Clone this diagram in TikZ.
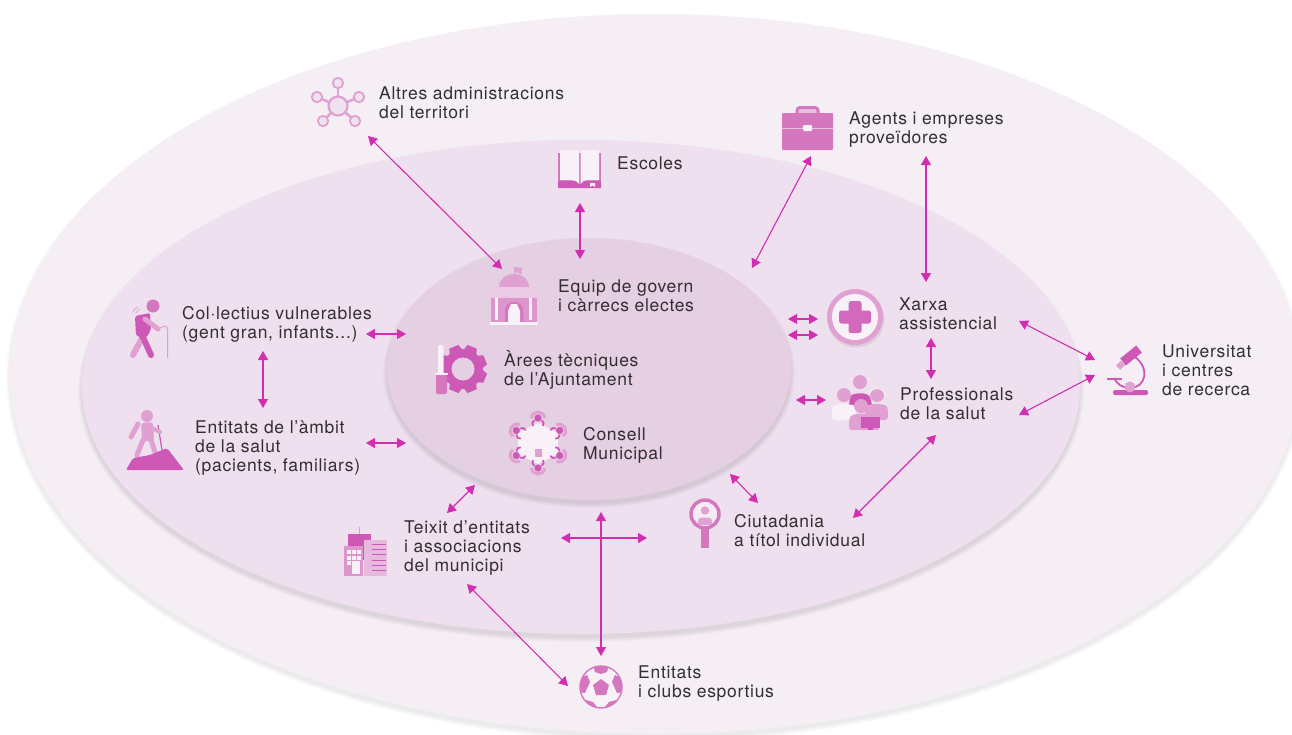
\documentclass[tikz,border=0pt]{standalone}
\usepackage{fontspec}
\setmainfont{TeX Gyre Heros}[LetterSpace=4]
\usetikzlibrary{arrows.meta}

\definecolor{outerzone}{HTML}{F5EEF5}
\definecolor{middlezone}{HTML}{EEE0EE}
\definecolor{innerzone}{HTML}{E5CFE3}
\definecolor{linkpink}{HTML}{D32DB0}
\definecolor{textgrey}{HTML}{332E2F}
\definecolor{icondark}{HTML}{CE58B6}
\definecolor{iconmid}{HTML}{D577BF}
\definecolor{iconlight}{HTML}{E0A0D2}
\definecolor{iconpale}{HTML}{F8F2F8}

\tikzset{
  txt/.style={anchor=base west, align=left, inner sep=0pt, text=textgrey,
    font=\fontsize{17.5}{19}\selectfont},
  link/.style={{Triangle[length=9pt,width=10pt]}-{Triangle[length=9pt,width=10pt]},
    draw=linkpink, line width=1.1pt},
  limb/.style={line cap=round, line width=#1},
}

\begin{document}
\begin{tikzpicture}[x=1pt, y=-1pt]
  \useasboundingbox (0,0) rectangle (1292,734);
  \clip (0,0) rectangle (1292,734);

  % zones
  \foreach \s in {1,...,5}
    \fill[black, opacity=.016] (655,378) ellipse [x radius=644+\s, y radius=359+\s];
  \fill[outerzone] (655,374) ellipse [x radius=645, y radius=360];
  \foreach \s in {1,...,5}
    \fill[black, opacity=.02] (581,391) ellipse [x radius=498+\s, y radius=246+\s];
  \fill[middlezone] (581,387) ellipse [x radius=499, y radius=247];
  \foreach \s in {1,...,5}
    \fill[black, opacity=.02] (589,373) ellipse [x radius=201+\s, y radius=130+\s];
  \fill[innerzone] (589,369) ellipse [x radius=202, y radius=131];

  % labels
  \node[txt] (altres) at (379,118) {Altres administracions\\del territori};
  \node[txt] (escoles) at (617,169) {Escoles};
  \node[txt] (agents) at (849,143) {Agents i empreses\\proveïdores};
  \node[txt] (equip) at (558,311) {Equip de govern\\i càrrecs electes};
  \node[txt] (arees) at (504,385) {Àrees tècniques\\de l’Ajuntament};
  \node[txt] (consell) at (583,459) {Consell\\Municipal};
  \node[txt] (collectius) at (182,338) {Col·lectius vulnerables\\(gent gran, infants...)};
  \node[txt] (ambit) at (195,471) {Entitats de l’àmbit\\de la salut\\(pacients, familiars)};
  \node[txt] (xarxa) at (899,329) {Xarxa\\assistencial};
  \node[txt] (profes) at (900,419) {Professionals\\de la salut};
  \node[txt] (univ) at (1162,395) {Universitat\\i centres\\de recerca};
  \node[txt] (teixit) at (404,571) {Teixit d’entitats\\i associacions\\del municipi};
  \node[txt] (ciutat) at (734,546) {Ciutadania\\a títol individual};
  \node[txt] (clubs) at (638,697) {Entitats\\i clubs esportius};

  % connector ends
  \coordinate (altresEnd) at (368,136);
  \coordinate (equipEnd) at (502,269);
  \coordinate (escolesEnd) at (580,203);
  \coordinate (equipTop) at (580,259);
  \coordinate (agentsEnd) at (811,156);
  \coordinate (innerEnd) at (752,268);
  \coordinate (agentsDown) at (926,156);
  \coordinate (xarxaUp) at (926,282);
  \coordinate (doubleLeftA) at (788,319);
  \coordinate (doubleRightA) at (818,319);
  \coordinate (doubleLeftB) at (788,335);
  \coordinate (doubleRightB) at (818,335);
  \coordinate (xarxaDown) at (931,338);
  \coordinate (profesUp) at (931,379);
  \coordinate (profesLeft) at (796,400);
  \coordinate (profesIcon) at (826,400);
  \coordinate (xarxaRight) at (1019,321);
  \coordinate (univUp) at (1095,360);
  \coordinate (profesRight) at (1019,415);
  \coordinate (univDown) at (1095,375);
  \coordinate (profesDown) at (936,435);
  \coordinate (ciutatRight) at (853,518);
  \coordinate (innerLow) at (730,474);
  \coordinate (ciutatUp) at (758,503);
  \coordinate (innerLeftLow) at (475,485);
  \coordinate (teixitUp) at (447,513);
  \coordinate (teixitRight) at (561,538);
  \coordinate (ciutatLeft) at (647,538);
  \coordinate (innerBottom) at (601,512);
  \coordinate (clubsUp) at (601,656);
  \coordinate (teixitDown) at (467,584);
  \coordinate (clubsLeft) at (568,686);
  \coordinate (collectiusRight) at (366,334);
  \coordinate (innerLeftA) at (406,334);
  \coordinate (collectiusDown) at (263,351);
  \coordinate (ambitUp) at (263,408);
  \coordinate (ambitRight) at (366,443);
  \coordinate (innerLeftB) at (406,443);

  \draw[link] (altresEnd) -- (equipEnd);
  \draw[link] (escolesEnd) -- (equipTop);
  \draw[link] (agentsEnd) -- (innerEnd);
  \draw[link] (agentsDown) -- (xarxaUp);
  \draw[link] (doubleLeftA) -- (doubleRightA);
  \draw[link] (doubleLeftB) -- (doubleRightB);
  \draw[link] (xarxaDown) -- (profesUp);
  \draw[link] (profesLeft) -- (profesIcon);
  \draw[link] (xarxaRight) -- (univUp);
  \draw[link] (profesRight) -- (univDown);
  \draw[link] (profesDown) -- (ciutatRight);
  \draw[link] (innerLow) -- (ciutatUp);
  \draw[link] (innerLeftLow) -- (teixitUp);
  \draw[link] (teixitRight) -- (ciutatLeft);
  \draw[link] (innerBottom) -- (clubsUp);
  \draw[link] (teixitDown) -- (clubsLeft);
  \draw[link] (collectiusRight) -- (innerLeftA);
  \draw[link] (collectiusDown) -- (ambitUp);
  \draw[link] (ambitRight) -- (innerLeftB);

  % network icon
  \foreach \px/\py in {338/83, 359/97, 317/97, 323/121, 355/121} {
    \draw[iconlight, line width=2.5pt] (338,106) -- (\px,\py);
    \draw[iconlight, line width=1.8pt, fill=innerzone!60!white] (\px,\py) circle [radius=5.2];
  }
  \draw[iconlight, line width=2.2pt, fill=innerzone!60!white] (338,106) circle [radius=9.5];

  % book icon
  \fill[iconmid] (558,153) rectangle (601,188);
  \fill[icondark] (558,181) -- (578,181) -- (579.5,185) -- (581,181) -- (601,181) -- (601,188) -- (558,188) -- cycle;
  \fill[iconpale] (560,150) -- (577,150) .. controls (578.5,150) and (579,151) .. (579,152) -- (579,184) .. controls (577,181) and (574,180) .. (571,180) -- (560,180) -- cycle;
  \fill[iconpale] (599,150) -- (582,150) .. controls (580.5,150) and (580.5,151) .. (580.5,152) -- (580.5,184) .. controls (582,181) and (585,180) .. (588,180) -- (599,180) -- cycle;
  \fill[iconpale] (590,183) -- (595,183) -- (595,187) -- (592.5,185.5) -- (590,187) -- cycle;

  % town hall icon
  \draw[iconlight, line width=1pt] (514,267) -- (514,274);
  \fill[iconlight] (515,267) -- (523,268) -- (521,271) -- (522,274) -- (515,272) -- cycle;
  \fill[iconlight] (499,288) .. controls (499,279) and (506,274) .. (514,274) .. controls (522,274) and (529,279) .. (529,288) -- cycle;
  \fill[iconlight!50!iconpale] (494,287) rectangle (533,292);
  \fill[iconlight!85!icondark] (491,298) rectangle (537,322);
  \fill[iconlight!50!iconpale] (487,294) rectangle (541,298);
  \fill[iconpale] (495,298) rectangle (498,320);
  \fill[iconpale] (529,298) rectangle (532,320);
  \fill[iconmid] (505,322) -- (505,311) .. controls (505,305) and (509,302) .. (514,302) .. controls (519,302) and (523,305) .. (523,311) -- (523,322) -- cycle;
  \fill[iconpale] (508,322) -- (508,311) .. controls (508,308) and (511,307) .. (511,304) -- (517,304) .. controls (517,307) and (520,308) .. (520,311) -- (520,322) -- cycle;
  \fill[iconpale] (490,322) rectangle (538,325);

  % gear and screwdriver icon
  \foreach \a in {0,45,...,315}
    \fill[icondark, rotate around={22.5+\a:(463,369)}] (458,345) -- (468,345) -- (470,352) -- (456,352) -- cycle;
  \fill[icondark] (463,369) circle [radius=20];
  \fill[innerzone] (463,369) circle [radius=11.5];
  \fill[iconpale, rounded corners=2pt] (438,345) rectangle (443.5,375);
  \fill[iconmid, rounded corners=2pt] (436,373) rectangle (447,394);
  \fill[iconpale] (435,373) rectangle (447.5,374.5);

  % council icon
  \fill[iconpale] (538,423) -- (558,433) -- (558,454) -- (538,464) -- (518,454) -- (518,433) -- cycle;
  \foreach \a in {30,90,...,330} {
    \begin{scope}[shift={(538,443)}, rotate=\a]
      \draw[iconlight, line width=3pt] (25,-6.5) .. controls (33,-6) and (33,6) .. (25,6.5);
      \fill[icondark] (25,0) circle [radius=3.6];
      \draw[icondark, line width=1.8pt, line cap=round] (17.5,-5) .. controls (19,-6) and (21,-6) .. (22.5,-4);
      \draw[icondark, line width=1.8pt, line cap=round] (17.5,5) .. controls (19,6) and (21,6) .. (22.5,4);
    \end{scope}
  }
  \fill[iconlight] (535,449) rectangle (542,457);

  % walking person icon
  \fill[iconmid] (153,306) circle [radius=6.5];
  \draw[iconlight, line width=1pt] (160,328) -- (165,326) .. controls (167,326) and (167.5,328) .. (167.5,330) -- (167.5,358);
  \draw[iconlight, limb=6pt] (142,338) -- (133,355);
  \draw[icondark, limb=6pt] (142,335) -- (151,355);
  \fill[icondark, rounded corners=2pt] (135,316) -- (150,313) -- (151,330) -- (146,338) -- (136,336) -- cycle;
  \draw[iconlight, limb=5pt] (145,319) -- (158,329);
  \draw[iconlight, line width=.7pt] (133,312) .. controls (134,310) and (135,308) .. (138,307);
  \draw[iconlight, line width=.7pt] (136,313) .. controls (137,311) and (138,310) .. (140,309);

  % hiking person icon
  \fill[iconlight] (147,416) circle [radius=6];
  \draw[icondark, line width=1.2pt] (158,425) -- (162,450);
  \draw[iconlight, limb=5pt] (143,440) -- (137,455);
  \draw[iconlight, limb=5pt] (151,440) -- (155,452);
  \draw[iconlight, limb=5pt] (138,424) -- (131,437);
  \fill[iconlight, rounded corners=3pt] (141,423) -- (153,422) -- (154,441) -- (142,441) -- cycle;
  \draw[iconlight, limb=4pt] (150,427) -- (160,432);
  \fill[icondark, rounded corners=2pt] (126,470) -- (133,458) -- (150,455) -- (167,448) -- (184,470) -- cycle;

  % briefcase icon
  \draw[iconmid, line width=3pt, rounded corners=3pt, fill=iconlight!50!middlezone] (797,114) -- (797,107.5) -- (818,107.5) -- (818,114);
  \fill[iconmid, rounded corners=1pt] (782,113) rectangle (833,150);
  \draw[iconlight!60!iconpale, line width=1pt] (782,128) -- (833,128);
  \fill[iconpale, rounded corners=1pt] (803,125) rectangle (812,131);

  % health cross icon
  \fill[black, opacity=.08] (856,319) circle [radius=28.5];
  \fill[iconlight] (855,317) circle [radius=28];
  \fill[iconpale] (855,317) circle [radius=23];
  \fill[icondark!90!white, rounded corners=2.5pt] (848.5,301) rectangle (861.5,333);
  \fill[icondark!90!white, rounded corners=2.5pt] (839,310.5) rectangle (871,323.5);

  % professionals icon
  \fill[iconlight] (860,382) circle [radius=7];
  \fill[icondark] (849,405) -- (850,397) .. controls (852,392) and (868,392) .. (870,397) -- (872,405) -- cycle;
  \fill[iconpale, rounded corners=3pt] (832,420) -- (832,410) .. controls (834,403) and (854,403) .. (856,410) -- (856,420) -- cycle;
  \fill[iconlight] (844,395) circle [radius=7];
  \fill[iconlight, rounded corners=3pt] (865,420) -- (865,410) .. controls (867,403) and (886,403) .. (888,410) -- (888,420) -- cycle;
  \fill[iconlight] (877,395) circle [radius=7];
  \draw[iconpale, line width=1pt] (869,396) .. controls (869,386) and (885,386) .. (885,396);
  \fill[iconlight, rounded corners=3pt] (849,430) -- (849,421) .. controls (851,412) and (872,412) .. (875,421) -- (880,430) -- cycle;
  \fill[iconlight] (861,406) circle [radius=7];
  \fill[icondark] (861,417) rectangle (880,428);
  \fill[icondark] (868,428) rectangle (873,430);

  % microscope icon
  \draw[icondark, line width=1.8pt] (1135,357) .. controls (1150,368) and (1146,388) .. (1130,388) .. controls (1122,388) and (1117,384) .. (1114,378);
  \draw[icondark, line width=1.4pt] (1107,379) -- (1122,379);
  \draw[icondark, line width=9pt] (1123,362) -- (1139,349);
  \draw[iconlight, line width=6pt] (1118,367.5) -- (1123,363);
  \fill[icondark, rounded corners=2pt] (1113,390) rectangle (1148,395);
  \fill[iconlight] (1130,387) circle [radius=5.5];

  % buildings icon
  \draw[iconlight, line width=1pt] (359,527) -- (359,534);
  \fill[icondark] (348,534) rectangle (371,560);
  \fill[iconlight!60!middlezone] (364,540) rectangle (387,576);
  \foreach \ly in {544,549.3,554.7,560,565,570}
    \draw[icondark, line width=1pt] (372,\ly) -- (386,\ly);
  \fill[iconlight!85!icondark] (344,546) rectangle (363,576);
  \foreach \wx in {347,352,357}
    \foreach \wy in {550,556}
      \fill[iconpale] (\wx,\wy) rectangle +(3.5,3.5);
  \fill[iconpale] (347,561) rectangle +(3.5,3.5);
  \fill[iconpale] (352,561) rectangle (360,574);

  % magnifier icon
  \fill[iconmid] (701,528) rectangle (709,548);
  \draw[iconmid, line width=3.5pt, fill=iconpale!60!middlezone] (705,514) circle [radius=14];
  \fill[iconlight] (705,510.5) circle [radius=4.2];
  \fill[iconlight, rounded corners=2pt] (698,525) -- (698,521) .. controls (699,517) and (711,517) .. (712,521) -- (712,525) -- cycle;

  % football icon
  \fill[iconpale] (601,687) circle [radius=21];
  \begin{scope}
    \clip (601,687) circle [radius=21];
    \fill[iconmid] (601,679) -- (609,685) -- (606,695) -- (596,695) -- (593,685) -- cycle;
    \fill[iconmid] (593,665) -- (609,665) -- (607,672) -- (601,674) -- (595,672) -- cycle;
    \fill[iconmid] (580,678) -- (587,675) -- (590,682) -- (585,693) -- (578,692) -- cycle;
    \fill[iconmid] (622,678) -- (615,675) -- (612,682) -- (617,693) -- (624,692) -- cycle;
    \fill[iconmid] (586,700) -- (593,702) -- (598,708) -- (590,712) -- (582,706) -- cycle;
    \fill[iconmid] (616,700) -- (609,702) -- (604,708) -- (612,712) -- (620,706) -- cycle;
  \end{scope}
  \draw[iconmid, line width=1.4pt] (601,687) circle [radius=21];
\end{tikzpicture}
\end{document}
